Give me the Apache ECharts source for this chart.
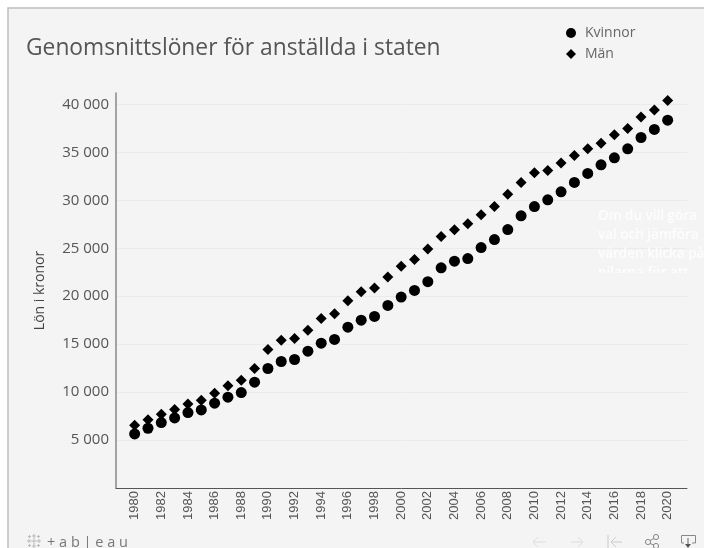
<!DOCTYPE html>
<html>
<head>
<meta charset="utf-8">
<script src="https://cdn.jsdelivr.net/npm/echarts@6/dist/echarts.min.js"></script>
<style>
  html, body { margin: 0; padding: 0; background: #fff; }
  #chart { width: 704px; height: 548px; }
</style>
</head>
<body>
<div id="chart"></div>
<script>
var years = [1980,1981,1982,1983,1984,1985,1986,1987,1988,1989,1990,1991,1992,1993,1994,1995,1996,1997,1998,1999,2000,2001,2002,2003,2004,2005,2006,2007,2008,2009,2010,2011,2012,2013,2014,2015,2016,2017,2018,2019,2020];
var kvinnor = [5640,6230,6820,7310,7870,8140,8840,9470,9950,11030,12460,13190,13400,14270,15100,15490,16770,17500,17890,19040,19910,20600,21510,22960,23650,23930,25070,25910,26950,28380,29350,30050,30880,31860,32800,33700,34430,35370,36550,37390,38360];
var man = [6540,7130,7690,8180,8770,9150,9880,10650,11240,12460,14440,15420,15590,16460,17680,18170,19520,20460,20850,21990,23130,23830,24910,26230,26930,27550,28490,29360,30640,31860,32870,33110,33880,34680,35370,35960,36830,37490,38680,39410,40420];
var yearTicks = [1980,1982,1984,1986,1988,1990,1992,1994,1996,1998,2000,2002,2004,2006,2008,2010,2012,2014,2016,2018,2020];
var lonTicks = [5000,10000,15000,20000,25000,30000,35000,40000];

function pairs(vals) {
    return vals.map(function (v, i) { return [years[i], v]; });
}

// små ritade ikoner i verktygsraden
function stroke(points, color) {
    return { type: 'polyline', shape: { points: points }, style: { stroke: color, fill: null, lineWidth: 1 } };
}
function ring(cx, cy, r, color) {
    return { type: 'circle', shape: { cx: cx, cy: cy, r: r }, style: { stroke: color, fill: null, lineWidth: 1 } };
}
function logoCross(cx, cy, r) {
    return [
        stroke([[cx - r, cy], [cx + r, cy]], '#bbb'),
        stroke([[cx, cy - r], [cx, cy + r]], '#bbb')
    ];
}

var FONT = '"Open Sans", sans-serif';
var BG = '#f4f4f4';

var toolbar = [].concat(
    logoCross(34, 541, 3), logoCross(29, 541, 2), logoCross(39, 541, 2), logoCross(34, 536, 2), logoCross(34, 546, 2),
    logoCross(29.5, 536.5, 1.5), logoCross(38.5, 536.5, 1.5), logoCross(29.5, 545.5, 1.5), logoCross(38.5, 545.5, 1.5),
    [
        stroke([[546, 542], [533, 542]], '#ddd'), stroke([[538, 537], [533, 542], [538, 547]], '#ddd'),
        stroke([[571, 542], [583, 542]], '#ddd'), stroke([[578, 537], [583, 542], [578, 547]], '#ddd'),
        stroke([[608, 535], [608, 548]], '#ccc'),
        stroke([[622, 542], [611, 542]], '#ccc'), stroke([[616, 537], [611, 542], [616, 547]], '#ccc'),
        ring(648, 542, 2.6, '#888'), ring(656, 537, 2.6, '#888'), ring(656, 546, 2.6, '#888'),
        stroke([[650, 540.5], [654, 538.5]], '#888'), stroke([[650, 543.5], [654, 545]], '#888'),
        stroke([[684, 543], [681.5, 543], [681.5, 535.5], [695.5, 535.5], [695.5, 543], [692, 543]], '#888'),
        stroke([[688, 538], [688, 546]], '#666'),
        { type: 'polygon', shape: { points: [[685, 544], [691, 544], [688, 548]] }, style: { fill: '#555' } }
    ]
);

var myChart = echarts.init(document.getElementById('chart'));
var option = {
    animation: false,
    backgroundColor: '#fff',
    title: {
        text: 'Genomsnittslöner för anställda i staten',
        left: 21,
        top: 32,
        textStyle: { fontFamily: FONT, fontSize: 22.8, fontWeight: 'normal', color: '#555' }
    },
    legend: {
        orient: 'vertical',
        left: 561,
        top: 21,
        itemWidth: 10,
        itemHeight: 10,
        itemGap: 7,
        textStyle: { fontFamily: FONT, fontSize: 14, color: '#666', padding: [0, 0, 0, 4] },
        data: [
            { name: 'Kvinnor', icon: 'circle' },
            { name: 'Män', icon: 'diamond' }
        ]
    },
    grid: { left: 116, right: 17, top: 93, bottom: 60 },
    xAxis: {
        type: 'value',
        min: 1978.6,
        max: 2021.45,
        axisLine: { show: true, onZero: false, lineStyle: { color: '#555', width: 1 } },
        axisTick: { show: false },
        splitLine: { show: false },
        axisLabel: {
            customValues: yearTicks,
            rotate: 90,
            margin: 3,
            fontFamily: 'Liberation Sans, sans-serif',
            fontSize: 13,
            color: '#555',
            formatter: function (v) { return String(v); }
        }
    },
    yAxis: {
        type: 'value',
        min: 0,
        max: 41190,
        name: 'Lön i kronor',
        nameLocation: 'middle',
        nameGap: 69,
        nameTextStyle: { fontFamily: FONT, fontSize: 14, color: '#444' },
        axisLine: { show: true, lineStyle: { color: '#888', width: 1.5 } },
        axisTick: { show: false, customValues: lonTicks },
        splitLine: { show: true, lineStyle: { color: '#ebebeb', width: 1 } },
        axisLabel: {
            customValues: lonTicks,
            margin: 7,
            fontFamily: FONT,
            fontSize: 15,
            color: '#555',
            formatter: function (v) { return String(v).replace(/(\d)(?=(\d{3})$)/, '$1 '); }
        }
    },
    graphic: [
        // panelen bakom diagrammet
        { type: 'rect', z: -10, shape: { x: 8, y: 8, width: 700, height: 545 }, style: { fill: BG, stroke: '#bdbdbd', lineWidth: 1.5 } },
        // den nästan osynliga vita texten
        { type: 'text', z: 20, left: 598, top: 207, style: { text: 'Om du vill göra\nval och jämföra\nvärden klicka på\npilarna för att', fill: '#fdfdfd', font: '600 13.5px "Open Sans"', lineHeight: 19 } },
        { type: 'rect', z: 21, shape: { x: 590, y: 273, width: 114, height: 14 }, style: { fill: BG } },
        // tableau-raden
        { type: 'text', left: 47, top: 535, style: { text: '+ a b | e a u', fill: '#777', font: '14.5px "Open Sans"' } }
    ].concat(toolbar),
    series: [
        {
            name: 'Kvinnor',
            type: 'scatter',
            data: pairs(kvinnor),
            symbol: 'circle',
            symbolSize: 11,
            itemStyle: { color: '#000', opacity: 1 }
        },
        {
            name: 'Män',
            type: 'scatter',
            data: pairs(man),
            symbol: 'diamond',
            symbolSize: 11,
            itemStyle: { color: '#000', opacity: 1 }
        }
    ]
};
myChart.setOption(option);
</script>
</body>
</html>
